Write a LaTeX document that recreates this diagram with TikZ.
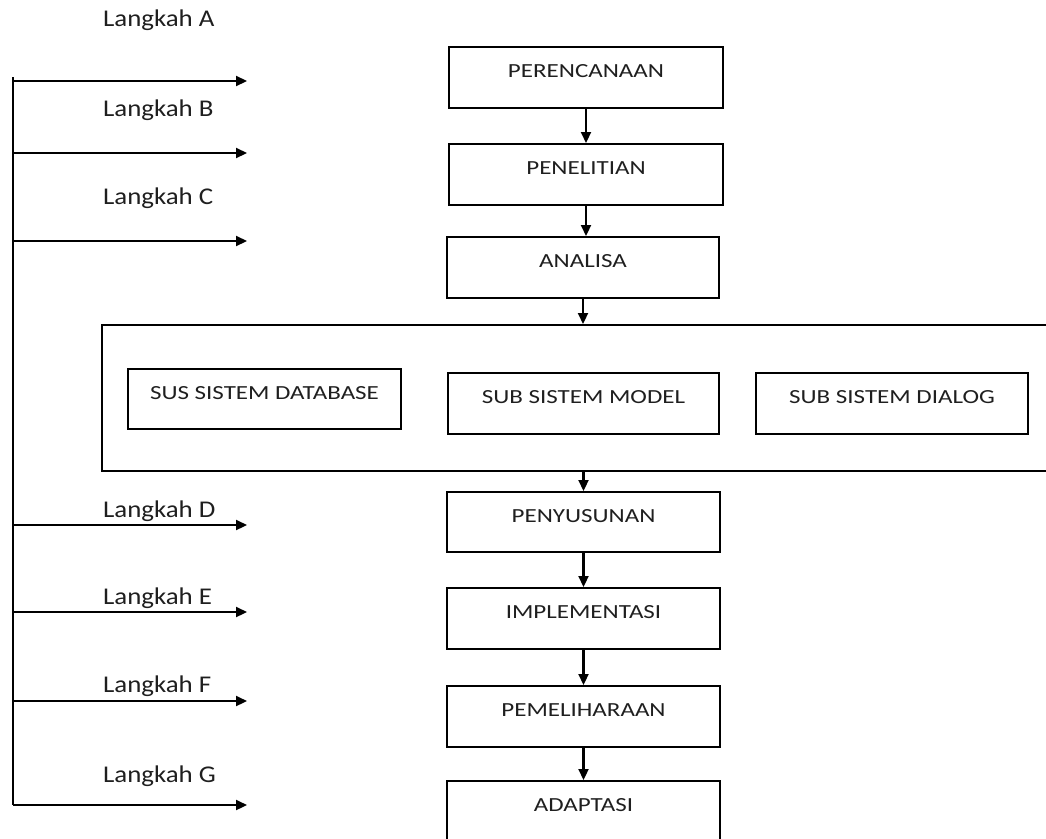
\documentclass[tikz,border=0pt]{standalone}
\usepackage{fontspec}
\setmainfont{Carlito}
\newfontfamily\lblfont[FakeStretch=1.12]{Carlito}
\newfontfamily\boxfont[FakeStretch=1.25]{Carlito}
\usetikzlibrary{arrows.meta}
\begin{document}
\begin{tikzpicture}[x=1pt,y=-1pt,
  line width=2.2pt,
  arr/.style={-{Triangle[length=11pt,width=10pt]}},
  stepbox/.style={draw,rectangle,inner sep=0pt,anchor=north,
    minimum width=#1,text height=30pt,text depth=31pt,
    font=\boxfont\fontsize{20}{22}\selectfont,text=black!88},
  stepbox/.default=274pt,
  lbl/.style={anchor=west,inner sep=0pt,font=\lblfont\fontsize{24}{27}\selectfont,text=black!88}]
\clip (0,0) rectangle (1046,838);
\fill[white] (0,0) rectangle (1046,838);

% central column
\node[stepbox] (per) at (586,46) {PERENCANAAN};
\node[stepbox] (pen) at (586,143) {PENELITIAN};
\node[stepbox=272pt] (ana) at (583,236) {ANALISA};
\node[draw,rectangle,inner sep=0pt,anchor=north west,minimum width=970pt,minimum height=146pt] (big) at (101,324) {};
\node[stepbox=273pt,text depth=30pt] (db) at (264.5,368) {SUS SISTEM DATABASE};
\node[stepbox=271pt] (mod) at (583.5,372) {SUB SISTEM MODEL};
\node[stepbox=272pt] (dia) at (892,372) {SUB SISTEM DIALOG};
\node[stepbox=273pt,text depth=30pt] (peny) at (583.5,491) {PENYUSUNAN};
\node[stepbox=273pt] (impl) at (583.5,587) {IMPLEMENTASI};
\node[stepbox=273pt] (pem) at (583.5,685) {PEMELIHARAAN};
\node[stepbox=273pt,text depth=45pt] (ada) at (583.5,780) {ADAPTASI};

\draw[arr] (per.south) -- (pen.north);
\draw[arr] (pen.south) -- (pen.south |- ana.north);
\draw[arr] (ana.south) -- (ana.south |- big.north);
\draw[arr] (big.south -| peny.north) -- (peny.north);
\draw[arr] (peny.south) -- (impl.north);
\draw[arr] (impl.south) -- (pem.north);
\draw[arr] (pem.south) -- (ada.north);

% left bus
\coordinate (top) at (13,77);
\coordinate (bot) at (13,805);
\draw (top) -- (bot);
\foreach \n/\y in {A/81,B/153,C/241,D/525,E/612,F/701,G/805}{
  \coordinate (s\n) at (13,\y);
  \coordinate (e\n) at (247,\y);
  \draw[arr] (s\n) -- (e\n);
}
\node[lbl] (lA) at (102,20) {Langkah A};
\node[lbl] (lB) at (102,110) {Langkah B};
\node[lbl] (lC) at (102,198) {Langkah C};
\node[lbl] (lD) at (102,511) {Langkah D};
\node[lbl] (lE) at (102,598) {Langkah E};
\node[lbl] (lF) at (102,686) {Langkah F};
\node[lbl] (lG) at (102,776) {Langkah G};
\end{tikzpicture}
\end{document}
